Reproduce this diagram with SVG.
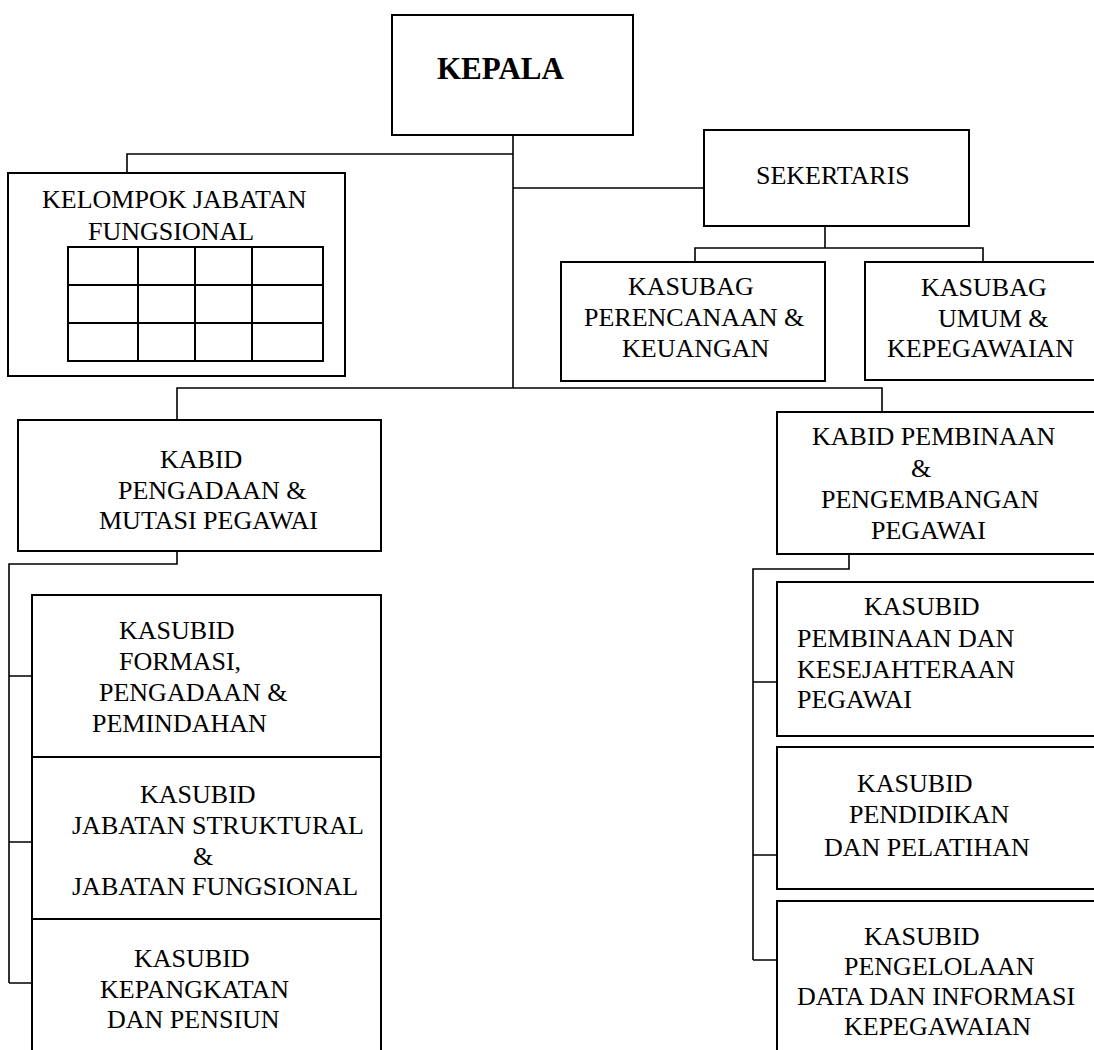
<svg xmlns="http://www.w3.org/2000/svg" width="1094" height="1050" viewBox="0 0 1094 1050">
<style>
.box{fill:#fff;stroke:#000;stroke-width:2}
.grid{fill:none;stroke:#000;stroke-width:2}
.conn{fill:none;stroke:#000;stroke-width:1.6}
text{font-family:"Liberation Serif","Times New Roman",serif;font-size:26px;fill:#000}
.bold{font-weight:bold;font-size:31px}
</style>
<rect width="1094" height="1050" fill="#fff"/>
<g id="connectors">
<path class="conn" d="M513,135 V388"/>
<path class="conn" d="M513,154 H127 V173"/>
<path class="conn" d="M513,188 H704"/>
<path class="conn" d="M825,226 V248"/>
<path class="conn" d="M695,262 V248 H983 V262"/>
<path class="conn" d="M177,420 V388 H882 V412"/>
<path class="conn" d="M177,551 V564 H9 V983"/>
<path class="conn" d="M9,676 H32 M9,842 H32 M9,983 H32"/>
<path class="conn" d="M849,554 V569 H753 V960"/>
<path class="conn" d="M753,682 H777 M753,855 H777 M753,960 H777"/>
</g>
<g id="kepala">
<rect class="box" x="392" y="15" width="241" height="120"/>
<text class="bold" x="437" y="79">KEPALA</text>
</g>
<g id="kelompok">
<rect class="box" x="8" y="173" width="337" height="203"/>
<text x="42" y="208">KELOMPOK JABATAN</text>
<text x="88" y="240">FUNGSIONAL</text>
<rect class="grid" x="68" y="247" width="255" height="114"/>
<path class="grid" d="M68,285 H323 M68,323 H323 M138,247 V361 M195,247 V361 M252,247 V361"/>
</g>
<g id="sekertaris">
<rect class="box" x="704" y="130" width="265" height="96"/>
<text x="756" y="184">SEKERTARIS</text>
</g>
<g id="kasubag-perencanaan">
<rect class="box" x="561" y="262" width="264" height="119"/>
<text x="628" y="295">KASUBAG</text>
<text x="584" y="326">PERENCANAAN &amp;</text>
<text x="622" y="357">KEUANGAN</text>
</g>
<g id="kasubag-umum">
<rect class="box" x="865" y="262" width="240" height="118"/>
<text x="921" y="296">KASUBAG</text>
<text x="938" y="327">UMUM &amp;</text>
<text x="887" y="357">KEPEGAWAIAN</text>
</g>
<g id="kabid-pengadaan">
<rect class="box" x="18" y="420" width="363" height="131"/>
<text x="160" y="468">KABID</text>
<text x="118" y="499">PENGADAAN &amp;</text>
<text x="99" y="529">MUTASI PEGAWAI</text>
</g>
<g id="kabid-pembinaan">
<rect class="box" x="777" y="412" width="330" height="142"/>
<text x="812" y="445">KABID PEMBINAAN</text>
<text x="911" y="477">&amp;</text>
<text x="821" y="508">PENGEMBANGAN</text>
<text x="871" y="539">PEGAWAI</text>
</g>
<g id="kasubid-formasi">
<rect class="box" x="32" y="595" width="349" height="162"/>
<text x="119" y="639">KASUBID</text>
<text x="119" y="670">FORMASI,</text>
<text x="99" y="701">PENGADAAN &amp;</text>
<text x="92" y="732">PEMINDAHAN</text>
</g>
<g id="kasubid-jabatan">
<rect class="box" x="32" y="757" width="349" height="162"/>
<text x="140" y="803">KASUBID</text>
<text x="72" y="834">JABATAN STRUKTURAL</text>
<text x="193" y="865">&amp;</text>
<text x="72" y="895">JABATAN FUNGSIONAL</text>
</g>
<g id="kasubid-kepangkatan">
<rect class="box" x="32" y="919" width="349" height="150"/>
<text x="134" y="967">KASUBID</text>
<text x="100" y="998">KEPANGKATAN</text>
<text x="107" y="1028">DAN PENSIUN</text>
</g>
<g id="kasubid-kesejahteraan">
<rect class="box" x="777" y="582" width="330" height="154"/>
<text x="864" y="615">KASUBID</text>
<text x="797" y="647">PEMBINAAN DAN</text>
<text x="797" y="678">KESEJAHTERAAN</text>
<text x="797" y="708">PEGAWAI</text>
</g>
<g id="kasubid-diklat">
<rect class="box" x="777" y="747" width="330" height="142"/>
<text x="857" y="792">KASUBID</text>
<text x="849" y="823">PENDIDIKAN</text>
<text x="824" y="856">DAN PELATIHAN</text>
</g>
<g id="kasubid-data">
<rect class="box" x="777" y="901" width="330" height="170"/>
<text x="864" y="945">KASUBID</text>
<text x="844" y="975">PENGELOLAAN</text>
<text x="797" y="1005">DATA DAN INFORMASI</text>
<text x="844" y="1035">KEPEGAWAIAN</text>
</g>
</svg>
